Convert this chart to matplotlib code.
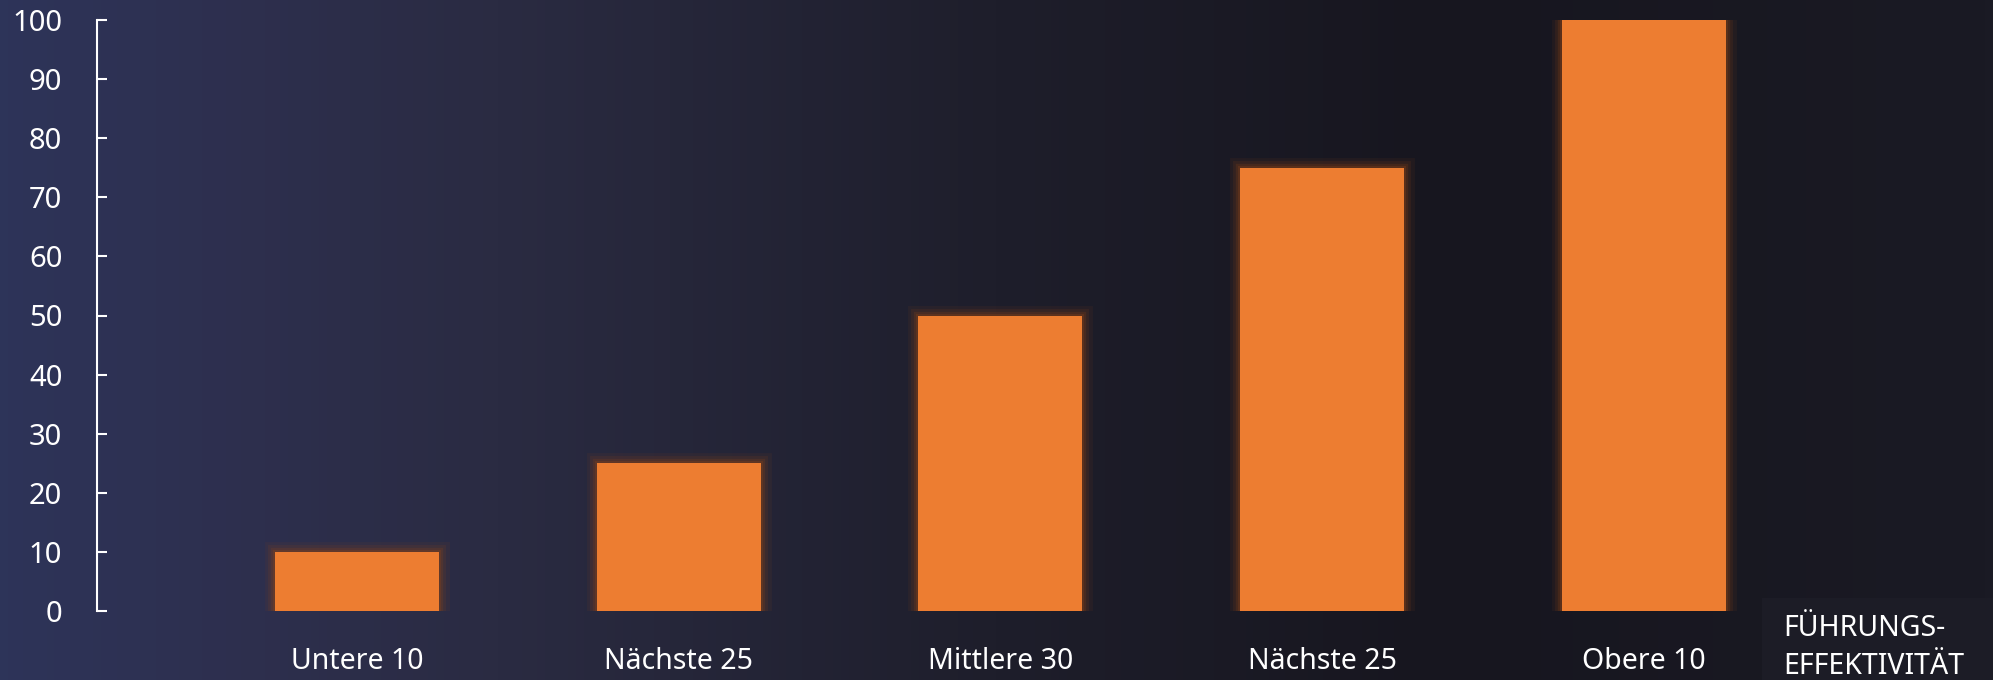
import matplotlib
matplotlib.use("Agg")
import matplotlib.pyplot as plt
import numpy as np
from matplotlib.colors import LinearSegmentedColormap
from matplotlib.patches import Rectangle

# Data
categories = ["Untere 10", "Nächste 25", "Mittlere 30", "Nächste 25", "Obere 10"]
values = [10, 25, 50, 75, 100]
y_ticks = [0, 10, 20, 30, 40, 50, 60, 70, 80, 90, 100]
axis_title = "FÜHRUNGS-\nEFFEKTIVITÄT"

bar_color = "#ed7d31"
text_color = "#ffffff"

plt.rcParams["font.family"] = ["Noto Sans", "DejaVu Sans"]

fig = plt.figure(figsize=(19.93, 6.8), dpi=100)

# Background gradient
bg = fig.add_axes([0, 0, 1, 1], zorder=-10)
cmap = LinearSegmentedColormap.from_list(
    "bg",
    [(0.0, "#2d3459"), (0.1, "#2e3050"), (0.25, "#2a2b42"),
     (0.5, "#1e1e2b"), (0.72, "#17161f"), (1.0, "#1a1a24")])
grad = np.linspace(0, 1, 512).reshape(1, -1)
bg.imshow(grad, aspect="auto", cmap=cmap, extent=[0, 1, 0, 1])
bg.set_axis_off()

# Main axes
ax = fig.add_axes([97 / 1993, 69 / 680, 1896 / 1993, 591 / 680])
ax.set_facecolor("none")

x = np.arange(len(categories))
width = 0.51

# Glow around bars
for lw, a in [(15, 0.10), (10, 0.15), (6, 0.22), (3, 0.3)]:
    ax.bar(x, values, width=width, color="none", edgecolor="#8a4318",
           linewidth=lw, alpha=a, zorder=2, joinstyle="miter")
ax.bar(x, values, width=width, color=bar_color, zorder=3, linewidth=0)

ax.set_ylim(0, 100)
ax.set_xlim(-0.808, 5.085)
ax.set_yticks(y_ticks)
ax.set_xticks(x)
ax.set_xticklabels(categories)

for s in ["top", "right", "bottom"]:
    ax.spines[s].set_visible(False)
ax.spines["left"].set_color(text_color)
ax.spines["left"].set_linewidth(1.5)

ax.tick_params(axis="y", direction="in", length=7.5, width=1.5,
               colors=text_color, labelsize=21, pad=25)
ax.tick_params(axis="x", length=0, colors=text_color, labelsize=20.5, pad=26)
for lbl in ax.get_yticklabels():
    lbl.set_clip_on(False)

# Axis title box in the corner
fig.patches.append(Rectangle((1762 / 1993, 0), 231 / 1993, 82 / 680,
                             transform=fig.transFigure, facecolor="#1c1c26",
                             edgecolor="none", zorder=0))
fig.text(1783 / 1993, 66 / 680, axis_title, color=text_color, fontsize=20.5,
         ha="left", va="top", linespacing=1.4)

fig.savefig("out.png", dpi=100)
